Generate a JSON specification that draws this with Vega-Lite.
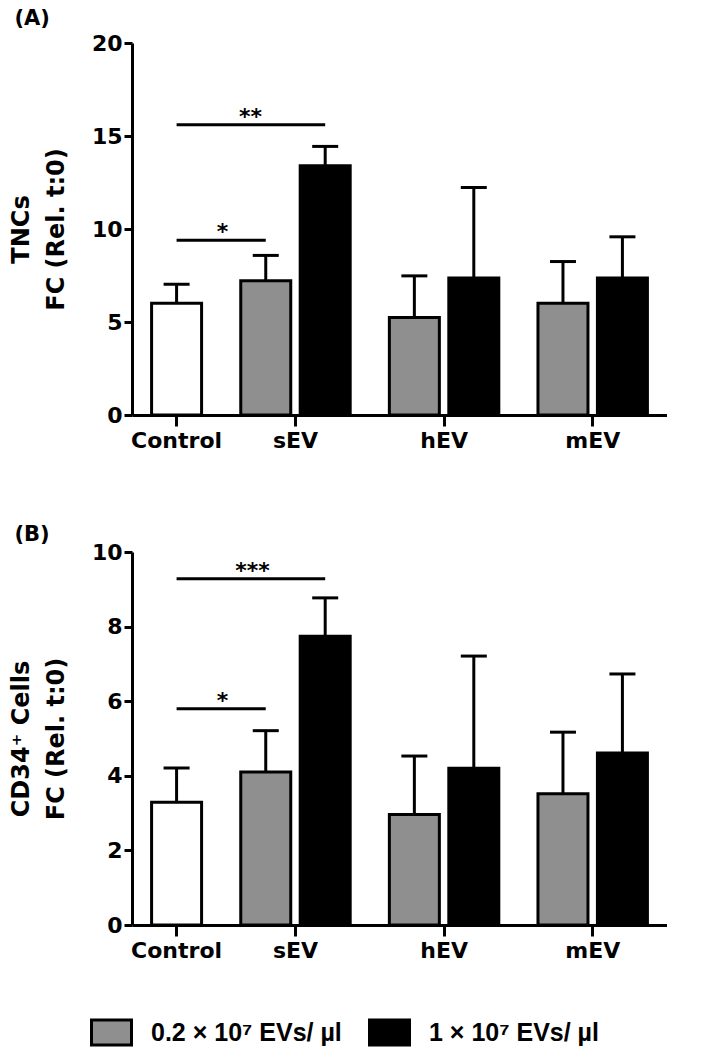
{
  "$schema": "https://vega.github.io/schema/vega-lite/v6.json",
  "padding": {"left": 9, "top": 8, "right": 0, "bottom": 0},
  "datasets": {
    "tnc": [
      {"condition": "Control", "dose": "Control", "mean": 6.01, "upper": 7.03},
      {"condition": "sEV (0.2)", "dose": "0.2 × 10⁷ EVs/ µl", "mean": 7.22, "upper": 8.58},
      {"condition": "sEV (1)", "dose": "1 × 10⁷ EVs/ µl", "mean": 13.40, "upper": 14.44},
      {"condition": "hEV (0.2)", "dose": "0.2 × 10⁷ EVs/ µl", "mean": 5.24, "upper": 7.48},
      {"condition": "hEV (1)", "dose": "1 × 10⁷ EVs/ µl", "mean": 7.36, "upper": 12.23},
      {"condition": "mEV (0.2)", "dose": "0.2 × 10⁷ EVs/ µl", "mean": 6.01, "upper": 8.25},
      {"condition": "mEV (1)", "dose": "1 × 10⁷ EVs/ µl", "mean": 7.36, "upper": 9.58}
    ],
    "cd34": [
      {"condition": "Control", "dose": "Control", "mean": 3.29, "upper": 4.21},
      {"condition": "sEV (0.2)", "dose": "0.2 × 10⁷ EVs/ µl", "mean": 4.10, "upper": 5.21},
      {"condition": "sEV (1)", "dose": "1 × 10⁷ EVs/ µl", "mean": 7.74, "upper": 8.77},
      {"condition": "hEV (0.2)", "dose": "0.2 × 10⁷ EVs/ µl", "mean": 2.96, "upper": 4.53},
      {"condition": "hEV (1)", "dose": "1 × 10⁷ EVs/ µl", "mean": 4.20, "upper": 7.21},
      {"condition": "mEV (0.2)", "dose": "0.2 × 10⁷ EVs/ µl", "mean": 3.52, "upper": 5.17},
      {"condition": "mEV (1)", "dose": "1 × 10⁷ EVs/ µl", "mean": 4.61, "upper": 6.73}
    ],
    "tnc_sig": [
      {"from": "Control", "to": "sEV (0.2)", "level": 9.4, "label": "*"},
      {"from": "Control", "to": "sEV (1)", "level": 15.6, "label": "**"}
    ],
    "cd34_sig": [
      {"from": "Control", "to": "sEV (0.2)", "level": 5.8, "label": "*"},
      {"from": "Control", "to": "sEV (1)", "level": 9.28, "label": "***"}
    ]
  },
  "vconcat": [
    {
      "width": 535,
      "height": 372,
      "title": {"text": "(A)", "anchor": "start", "frame": "bounds", "font": "DejaVu Sans", "fontWeight": "bold", "fontSize": 21, "color": "black", "offset": 3, "dx": 5},
      "layer": [
        {
          "data": {"name": "tnc"},
          "mark": {"type": "bar", "width": 50, "stroke": "black", "strokeWidth": 3},
          "encoding": {
            "x": {"field": "condition", "type": "nominal", "sort": null,
              "scale": {"domain": ["Control", "·a", "·b", "sEV (0.2)", "sEV", "sEV (1)", "·c", "·d", "hEV (0.2)", "hEV", "hEV (1)", "·e", "·f", "mEV (0.2)", "mEV", "mEV (1)"], "paddingInner": 0, "paddingOuter": 1},
              "axis": {"values": ["Control", "sEV", "hEV", "mEV"], "title": null, "labelAngle": 0, "tickSize": 11, "labelPadding": 4}},
            "y": {"field": "mean", "type": "quantitative", "stack": null,
              "scale": {"domain": [0, 20]},
              "axis": {"values": [0, 5, 10, 15, 20], "title": ["TNCs", "FC (Rel. t:0)"], "tickSize": 8, "labelPadding": 2, "titlePadding": 23, "titleLineHeight": 35}},
            "fill": {"field": "dose", "type": "nominal",
              "scale": {"domain": ["Control", "0.2 × 10⁷ EVs/ µl", "1 × 10⁷ EVs/ µl"], "range": ["#ffffff", "#8f8f8f", "#000000"]},
              "legend": {"values": ["0.2 × 10⁷ EVs/ µl", "1 × 10⁷ EVs/ µl"]}}
          }
        },
        {
          "data": {"name": "tnc"},
          "mark": {"type": "rule", "strokeWidth": 3, "color": "black"},
          "encoding": {
            "x": {"field": "condition", "type": "nominal", "sort": null},
            "y": {"field": "mean", "type": "quantitative"},
            "y2": {"field": "upper"}
          }
        },
        {
          "data": {"name": "tnc"},
          "mark": {"type": "tick", "orient": "horizontal", "size": 26, "thickness": 3, "color": "black", "opacity": 1},
          "encoding": {
            "x": {"field": "condition", "type": "nominal", "sort": null},
            "y": {"field": "upper", "type": "quantitative"}
          }
        },
        {
          "data": {"name": "tnc_sig"},
          "mark": {"type": "rule", "strokeWidth": 3, "color": "black"},
          "encoding": {
            "x": {"field": "from", "type": "nominal"},
            "x2": {"field": "to"},
            "y": {"field": "level", "type": "quantitative"}
          }
        },
        {
          "data": {"name": "tnc_sig"},
          "transform": [{"filter": "datum.to == 'sEV (0.2)'"}],
          "mark": {"type": "text", "font": "DejaVu Sans", "fontWeight": "bold", "fontSize": 22, "dx": 46, "dy": -1, "baseline": "alphabetic", "color": "black"},
          "encoding": {
            "x": {"field": "from", "type": "nominal"},
            "y": {"field": "level", "type": "quantitative"},
            "text": {"field": "label"}
          }
        },
        {
          "data": {"name": "tnc_sig"},
          "transform": [{"filter": "datum.to == 'sEV (1)'"}],
          "mark": {"type": "text", "font": "DejaVu Sans", "fontWeight": "bold", "fontSize": 22, "dx": 74, "dy": -1, "baseline": "alphabetic", "color": "black"},
          "encoding": {
            "x": {"field": "from", "type": "nominal"},
            "y": {"field": "level", "type": "quantitative"},
            "text": {"field": "label"}
          }
        }
      ]
    },
    {
      "width": 535,
      "height": 373,
      "title": {"text": "(B)", "anchor": "start", "frame": "bounds", "font": "DejaVu Sans", "fontWeight": "bold", "fontSize": 21, "color": "black", "offset": -4, "dx": 5},
      "layer": [
        {
          "data": {"name": "cd34"},
          "mark": {"type": "bar", "width": 50, "stroke": "black", "strokeWidth": 3},
          "encoding": {
            "x": {"field": "condition", "type": "nominal", "sort": null,
              "scale": {"domain": ["Control", "·a", "·b", "sEV (0.2)", "sEV", "sEV (1)", "·c", "·d", "hEV (0.2)", "hEV", "hEV (1)", "·e", "·f", "mEV (0.2)", "mEV", "mEV (1)"], "paddingInner": 0, "paddingOuter": 1},
              "axis": {"values": ["Control", "sEV", "hEV", "mEV"], "title": null, "labelAngle": 0, "tickSize": 11, "labelPadding": 4}},
            "y": {"field": "mean", "type": "quantitative", "stack": null,
              "scale": {"domain": [0, 10]},
              "axis": {"values": [0, 2, 4, 6, 8, 10], "title": ["CD34⁺ Cells", "FC (Rel. t:0)"], "tickSize": 8, "labelPadding": 2, "titlePadding": 23, "titleLineHeight": 35}},
            "fill": {"field": "dose", "type": "nominal",
              "scale": {"domain": ["Control", "0.2 × 10⁷ EVs/ µl", "1 × 10⁷ EVs/ µl"], "range": ["#ffffff", "#8f8f8f", "#000000"]},
              "legend": {"values": ["0.2 × 10⁷ EVs/ µl", "1 × 10⁷ EVs/ µl"]}}
          }
        },
        {
          "data": {"name": "cd34"},
          "mark": {"type": "rule", "strokeWidth": 3, "color": "black"},
          "encoding": {
            "x": {"field": "condition", "type": "nominal", "sort": null},
            "y": {"field": "mean", "type": "quantitative"},
            "y2": {"field": "upper"}
          }
        },
        {
          "data": {"name": "cd34"},
          "mark": {"type": "tick", "orient": "horizontal", "size": 26, "thickness": 3, "color": "black", "opacity": 1},
          "encoding": {
            "x": {"field": "condition", "type": "nominal", "sort": null},
            "y": {"field": "upper", "type": "quantitative"}
          }
        },
        {
          "data": {"name": "cd34_sig"},
          "mark": {"type": "rule", "strokeWidth": 3, "color": "black"},
          "encoding": {
            "x": {"field": "from", "type": "nominal"},
            "x2": {"field": "to"},
            "y": {"field": "level", "type": "quantitative"}
          }
        },
        {
          "data": {"name": "cd34_sig"},
          "transform": [{"filter": "datum.to == 'sEV (0.2)'"}],
          "mark": {"type": "text", "font": "DejaVu Sans", "fontWeight": "bold", "fontSize": 22, "dx": 46, "dy": -1, "baseline": "alphabetic", "color": "black"},
          "encoding": {
            "x": {"field": "from", "type": "nominal"},
            "y": {"field": "level", "type": "quantitative"},
            "text": {"field": "label"}
          }
        },
        {
          "data": {"name": "cd34_sig"},
          "transform": [{"filter": "datum.to == 'sEV (1)'"}],
          "mark": {"type": "text", "font": "DejaVu Sans", "fontWeight": "bold", "fontSize": 22, "dx": 76, "dy": -1, "baseline": "alphabetic", "color": "black"},
          "encoding": {
            "x": {"field": "from", "type": "nominal"},
            "y": {"field": "level", "type": "quantitative"},
            "text": {"field": "label"}
          }
        }
      ]
    }
  ],
  "spacing": 73,
  "config": {
    "view": {"stroke": null},
    "font": "DejaVu Sans",
    "axis": {
      "grid": false,
      "domainColor": "black", "domainWidth": 3,
      "tickColor": "black", "tickWidth": 3,
      "labelFont": "DejaVu Sans", "labelFontWeight": "bold", "labelFontSize": 22, "labelColor": "black",
      "titleFont": "DejaVu Sans", "titleFontWeight": "bold", "titleFontSize": 24, "titleColor": "black"
    },
    "legend": {
      "orient": "none", "legendX": -42, "legendY": 968, "direction": "horizontal", "title": null,
      "symbolType": "M-1,-0.625H1V0.625H-1Z", "symbolSize": 1600,
      "symbolStrokeColor": "black", "symbolStrokeWidth": 3,
      "labelFont": "Liberation Sans", "labelFontWeight": "bold", "labelFontSize": 25, "labelColor": "black", "labelLimit": 0,
      "labelOffset": 18, "columnPadding": 21
    }
  }
}
